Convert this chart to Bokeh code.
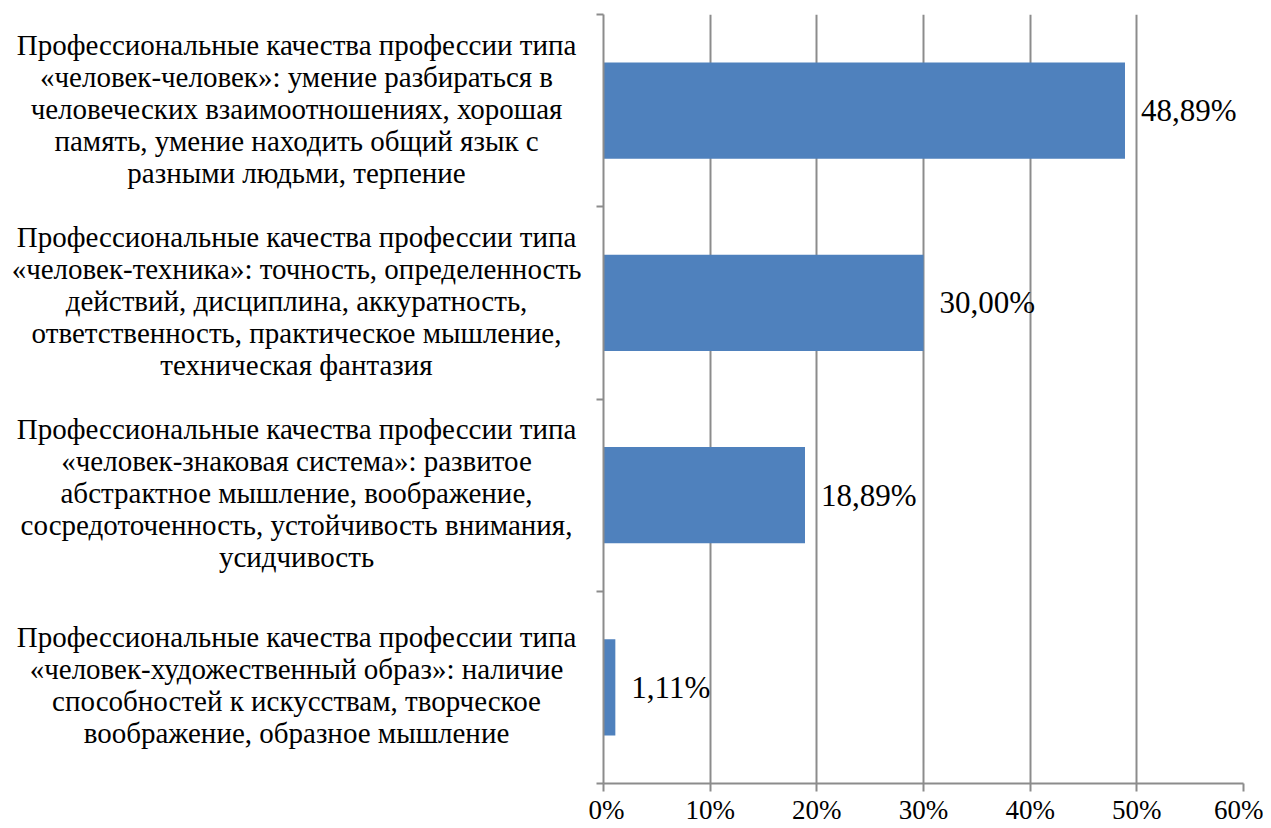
from bokeh.plotting import figure
from bokeh.models import Label, FixedTicker, ColumnDataSource
from bokeh.layouts import row
from bokeh.embed import file_html
from bokeh.resources import INLINE
from bokeh.core.properties import value

categories = [
    ["Профессиональные качества профессии типа",
     "«человек-человек»: умение разбираться в",
     "человеческих взаимоотношениях, хорошая",
     "память, умение находить общий язык с",
     "разными людьми, терпение"],
    ["Профессиональные качества профессии типа",
     "«человек-техника»: точность, определенность",
     "действий, дисциплина, аккуратность,",
     "ответственность, практическое мышление,",
     "техническая фантазия"],
    ["Профессиональные качества профессии типа",
     "«человек-знаковая система»: развитое",
     "абстрактное мышление, воображение,",
     "сосредоточенность, устойчивость внимания,",
     "усидчивость"],
    ["Профессиональные качества профессии типа",
     "«человек-художественный образ»: наличие",
     "способностей к искусствам, творческое",
     "воображение, образное мышление"],
]
values = [48.89, 30.00, 18.89, 1.11]
x_ticks = [0, 10, 20, 30, 40, 50, 60]
x_tick_labels = ["0%", "10%", "20%", "30%", "40%", "50%", "60%"]

FONT = "Liberation Serif"
GRID = "#8c8c8c"
BAR = "#4F81BD"

n = len(values)
centers = [n - i - 0.5 for i in range(n)]

LEFT_W = 588
TOP = 14
FRAME_H = 769

# main chart
p = figure(frame_width=640, frame_height=FRAME_H,
           x_range=(0, 60), y_range=(0, n),
           output_backend="svg", toolbar_location=None,
           min_border_left=603 - LEFT_W, min_border_right=20, min_border_top=TOP,
           min_border_bottom=0)
p.outline_line_color = None

p.hbar(y=centers, right=values, left=0, height=0.5, color=BAR, line_color=None)

p.xaxis.ticker = FixedTicker(ticks=x_ticks)
p.xaxis.major_label_overrides = {t: l for t, l in zip(x_ticks, x_tick_labels)}
p.xaxis.major_label_text_font = FONT
p.xaxis.major_label_text_font_size = "27px"
p.xaxis.major_label_text_color = "black"
p.xaxis.major_label_standoff = 3
p.xaxis.axis_line_color = GRID
p.xaxis.axis_line_width = 2
p.xaxis.major_tick_line_color = GRID
p.xaxis.major_tick_line_width = 2
p.xaxis.major_tick_out = 8
p.xaxis.major_tick_in = 0
p.xaxis.minor_tick_line_color = None

y_ticks = list(range(n + 1))
p.yaxis.ticker = FixedTicker(ticks=y_ticks)
p.yaxis.major_label_overrides = {t: "" for t in y_ticks}
p.yaxis.major_label_standoff = 0
p.yaxis.axis_line_color = GRID
p.yaxis.axis_line_width = 2
p.yaxis.major_tick_line_color = GRID
p.yaxis.major_tick_line_width = 2
p.yaxis.major_tick_out = 7
p.yaxis.major_tick_in = 0
p.yaxis.minor_tick_line_color = None

p.xgrid.ticker = FixedTicker(ticks=x_ticks)
p.xgrid.grid_line_color = GRID
p.xgrid.grid_line_width = 2
p.ygrid.grid_line_color = None

for c, v in zip(centers, values):
    txt = f"{v:.2f}".replace(".", ",") + "%"
    p.add_layout(Label(x=v, y=c, x_offset=16, text=txt,
                       text_align="left", text_baseline="middle",
                       text_font=FONT, text_font_size="31px",
                       text_color="black"))

# category label panel
LINE_H = 32
lx, ly, lt, lo = [], [], [], []
for c, lines in zip(centers, categories):
    k = len(lines)
    for j, line in enumerate(lines):
        lx.append(296)
        ly.append(c)
        lt.append(line)
        lo.append((j - (k - 1) / 2) * LINE_H - 2)
src = ColumnDataSource(dict(x=lx, y=ly, text=lt, off=lo))

left = figure(frame_width=LEFT_W, frame_height=FRAME_H,
              x_range=(0, LEFT_W), y_range=p.y_range,
              output_backend="svg", toolbar_location=None,
              min_border_left=0, min_border_right=0, min_border_top=TOP,
              min_border_bottom=0)
left.axis.visible = False
left.grid.visible = False
left.outline_line_color = None
left.text(x="x", y="y", text="text", y_offset="off", source=src,
          text_align="center", text_baseline="middle",
          text_font=value(FONT), text_font_size="29px", text_color="black")

layout = row(left, p)
open("out.html", "w").write(file_html(layout, INLINE))
